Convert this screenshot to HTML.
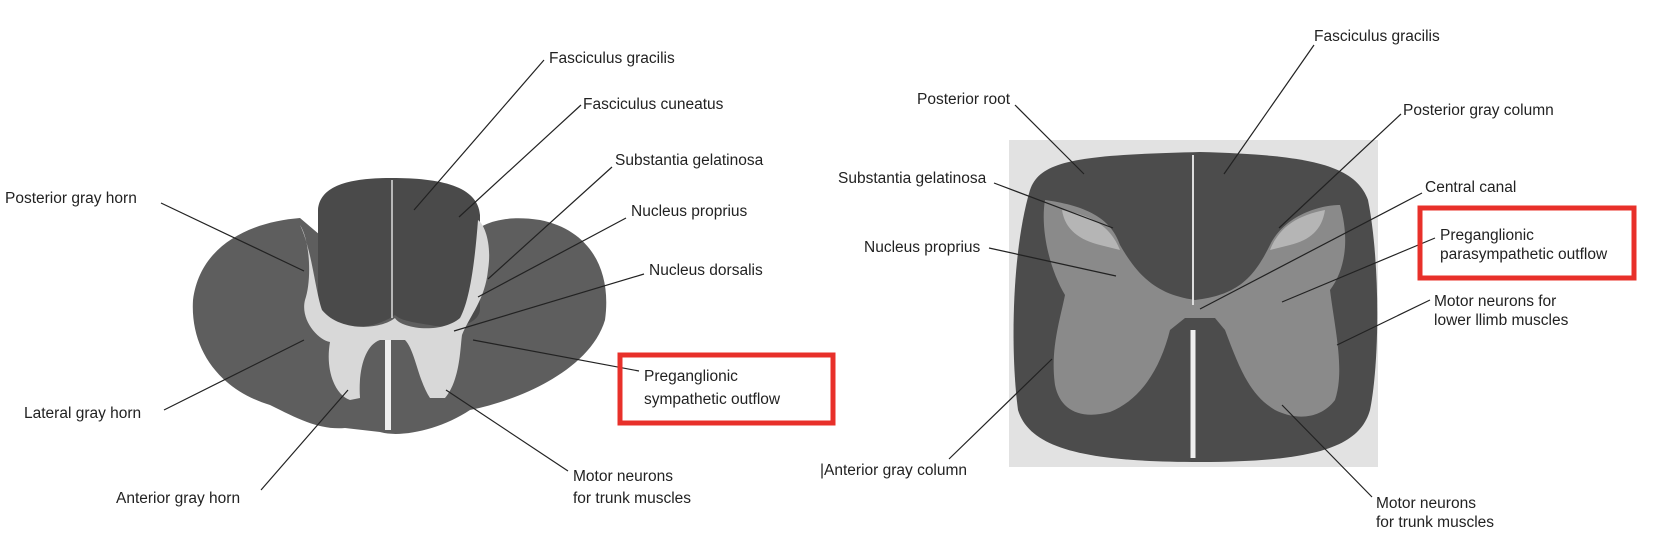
<!DOCTYPE html>
<html><head><meta charset="utf-8"><style>
html,body{margin:0;padding:0;background:#fff;}
svg{display:block;}
text{font-family:"Liberation Sans",Arial,sans-serif;font-size:15.5px;fill:#222;}
</style></head><body>
<svg width="1656" height="542" viewBox="0 0 1656 542" xmlns="http://www.w3.org/2000/svg">
<!-- LEFT CORD -->
<g>
 <!-- lateral/ventral white matter -->
 <path d="M300,218 C250,222 200,245 193,300 C190,350 220,390 270,405 C300,420 320,430 345,428 L380,432 C400,438 440,430 470,410 C520,400 590,370 605,320 C612,270 590,230 540,220 C500,214 480,225 470,235 L320,235 Z" fill="#5e5e5e"/>
 <!-- dorsal columns -->
 <path d="M318,210 C320,185 350,178 392,178 C440,178 478,186 480,215 L480,310 C478,325 455,330 430,325 C410,322 400,320 395,315 C385,322 365,330 345,326 C330,322 320,312 318,300 Z" fill="#4a4a4a"/>
 <!-- gray matter (light) -->
 <path d="M300,225 C310,240 312,280 305,300 C300,320 318,340 330,342 C325,370 335,395 350,400 L360,398 C358,370 365,345 380,340 L405,340 C415,350 418,380 430,398 L445,398 C460,380 460,350 462,335 C470,315 485,300 488,270 C492,245 485,225 478,220 C475,260 470,300 460,318 C440,335 400,328 395,318 C380,330 340,332 322,310 C315,290 312,250 300,225 Z" fill="#d8d8d8"/>
 <path d="M392,180 L392,318" stroke="#ddd" stroke-width="1.5"/>
 <path d="M388,340 L388,430" stroke="#eee" stroke-width="6"/>
</g>
<!-- left leaders -->
<g stroke="#222" stroke-width="1.2" fill="none">
 <line x1="544" y1="60" x2="414" y2="210"/>
 <line x1="581" y1="105" x2="459" y2="217"/>
 <line x1="612" y1="167" x2="488" y2="279"/>
 <line x1="626" y1="218" x2="478" y2="297"/>
 <line x1="644" y1="274" x2="454" y2="331"/>
 <line x1="639" y1="371" x2="473" y2="340"/>
 <line x1="161" y1="203" x2="304" y2="271"/>
 <line x1="164" y1="410" x2="304" y2="340"/>
 <line x1="261" y1="490" x2="348" y2="390"/>
 <line x1="568" y1="471" x2="446" y2="390"/>
</g>
<text x="549" y="63">Fasciculus gracilis</text>
<text x="583" y="109">Fasciculus cuneatus</text>
<text x="615" y="165">Substantia gelatinosa</text>
<text x="631" y="216">Nucleus proprius</text>
<text x="649" y="275">Nucleus dorsalis</text>
<text x="644" y="381">Preganglionic</text>
<text x="644" y="404">sympathetic outflow</text>
<text x="5" y="203">Posterior gray horn</text>
<text x="24" y="418">Lateral gray horn</text>
<text x="116" y="503">Anterior gray horn</text>
<text x="573" y="481">Motor neurons</text>
<text x="573" y="503">for trunk muscles</text>
<rect x="620" y="355" width="213" height="68" fill="none" stroke="#e8302a" stroke-width="5"/>

<!-- RIGHT CORD -->
<rect x="1009" y="140" width="369" height="327" fill="#e2e2e2"/>
<path d="M1030,190 C1040,160 1080,155 1200,152 C1310,155 1355,165 1368,200 C1380,260 1380,360 1370,410 C1360,445 1320,462 1200,462 C1090,462 1030,450 1018,410 C1010,350 1012,250 1030,190 Z" fill="#4c4c4c"/>
<path d="M1045,200 C1080,205 1110,215 1120,245 C1140,280 1160,295 1195,300 C1240,295 1255,275 1270,245 C1285,215 1320,205 1340,205 C1350,240 1345,270 1330,290 C1335,330 1345,370 1335,400 C1320,420 1295,420 1275,410 C1250,395 1240,370 1225,330 L1215,318 L1185,318 L1170,330 C1160,370 1140,400 1110,412 C1080,420 1060,410 1055,385 C1050,350 1060,320 1065,295 C1050,270 1040,230 1045,200 Z" fill="#8a8a8a"/>
<path d="M1062,210 C1090,215 1110,225 1120,250 L1100,245 C1080,240 1065,230 1062,210 Z M1325,210 C1300,215 1280,225 1270,250 L1290,245 C1310,240 1322,230 1325,210 Z" fill="#b5b5b5"/>
<path d="M1193,155 L1193,305" stroke="#ddd" stroke-width="2"/>
<path d="M1193,330 L1193,458" stroke="#eee" stroke-width="5"/>
<!-- right leaders -->
<g stroke="#222" stroke-width="1.2" fill="none">
 <line x1="1314" y1="45" x2="1224" y2="174"/>
 <line x1="1015" y1="105" x2="1084" y2="174"/>
 <line x1="1401" y1="114" x2="1279" y2="228"/>
 <line x1="994" y1="183" x2="1113" y2="228"/>
 <line x1="1422" y1="193" x2="1200" y2="309"/>
 <line x1="1435" y1="238" x2="1282" y2="302"/>
 <line x1="989" y1="248" x2="1116" y2="276"/>
 <line x1="1430" y1="300" x2="1337" y2="345"/>
 <line x1="949" y1="459" x2="1052" y2="359"/>
 <line x1="1372" y1="497" x2="1282" y2="405"/>
</g>
<text x="1314" y="41">Fasciculus gracilis</text>
<text x="917" y="104">Posterior root</text>
<text x="1403" y="115">Posterior gray column</text>
<text x="838" y="183">Substantia gelatinosa</text>
<text x="1425" y="192">Central canal</text>
<text x="1440" y="240">Preganglionic</text>
<text x="1440" y="259">parasympathetic outflow</text>
<text x="864" y="252">Nucleus proprius</text>
<text x="1434" y="306">Motor neurons for</text>
<text x="1434" y="325">lower llimb muscles</text>
<text x="820" y="475">|Anterior gray column</text>
<text x="1376" y="508">Motor neurons</text>
<text x="1376" y="527">for trunk muscles</text>
<rect x="1420" y="208" width="214" height="70" fill="none" stroke="#e8302a" stroke-width="5"/>
</svg>
</body></html>
